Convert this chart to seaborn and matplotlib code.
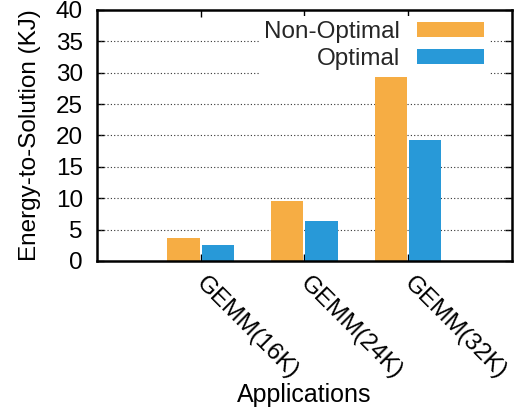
import matplotlib
matplotlib.use("Agg")
import matplotlib.pyplot as plt
import matplotlib.transforms as mtransforms
import seaborn as sns
import pandas as pd
from matplotlib.patches import Patch

applications = ["GEMM(16K)", "GEMM(24K)", "GEMM(32K)"]
series_names = ["Non-Optimal", "Optimal"]
non_optimal = [3.7, 9.6, 29.3]
optimal = [2.5, 6.3, 19.3]
y_ticks = [0, 5, 10, 15, 20, 25, 30, 35, 40]
colors = ["#f6ad44", "#2899d8"]

df = pd.DataFrame({
    "Applications": applications * 2,
    "Energy": non_optimal + optimal,
    "Config": [series_names[0]] * 3 + [series_names[1]] * 3,
})

sns.set_theme(style="white")
plt.rcParams["font.family"] = ["Liberation Sans", "DejaVu Sans"]
FS = 17.5

fig = plt.figure(figsize=(5.15, 4.11), dpi=100)
ax = fig.add_axes([0.188, 0.365, 0.806, 0.611])

sns.barplot(data=df, x="Applications", y="Energy", hue="Config",
            hue_order=series_names, palette=colors, width=0.66, gap=0.06,
            edgecolor="none", linewidth=0, saturation=1, legend=False,
            ax=ax, zorder=2)

ax.set_xlim(-1.0, 3.0)
ax.set_ylim(0, 40)
ax.set_yticks(y_ticks)
ax.set_yticklabels([str(t) for t in y_ticks], fontsize=FS, color="black")
ax.set_xticks(range(len(applications)))
ax.set_xticklabels(applications, fontsize=FS, color="black", rotation=-45,
                   ha="left", va="top", rotation_mode="anchor")
ax.tick_params(axis="both", direction="in", length=5, width=1.0,
               top=True, right=True, bottom=True, left=True, color="black")
ax.tick_params(axis="x", pad=8)
ax.tick_params(axis="y", pad=10)

# nudge the slanted category labels to the right
shift = mtransforms.ScaledTranslation(0.07, 0.0, fig.dpi_scale_trans)
for lbl in ax.get_xticklabels():
    lbl.set_transform(lbl.get_transform() + shift)

for y in y_ticks[1:-1]:
    ax.axhline(y, color="#333333", linestyle=(0, (1, 2)), linewidth=0.8, zorder=1)

for spine in ax.spines.values():
    spine.set_visible(True)
    spine.set_color("black")
    spine.set_linewidth(1.8)

ax.set_ylabel("Energy-to-Solution (KJ)", fontsize=FS, color="black", labelpad=11)
ax.set_xlabel("Applications", fontsize=18, color="black", labelpad=0)

handles = [Patch(facecolor=c, edgecolor="none") for c in colors]
leg = ax.legend(handles, series_names, loc="upper right", markerfirst=False,
                fontsize=FS, frameon=True, framealpha=1, facecolor="white",
                edgecolor="none", fancybox=False, handlelength=2.75,
                handleheight=0.55, labelspacing=0.2, borderpad=0.2,
                handletextpad=0.7, borderaxespad=0.0,
                bbox_to_anchor=(0.945, 0.975))
for t in leg.get_texts():
    t.set_ha("right")
leg.set_zorder(5)

fig.savefig("out.png", dpi=100)
